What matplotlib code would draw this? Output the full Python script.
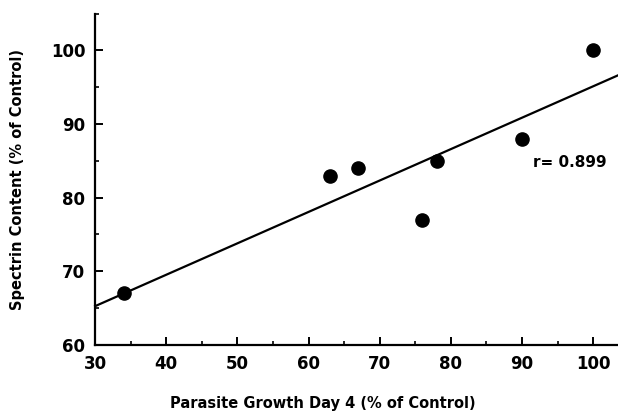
import numpy as np
import matplotlib
matplotlib.use("Agg")
import matplotlib.pyplot as plt
from matplotlib.ticker import MultipleLocator

# values
growth = [34, 63, 67, 76, 78, 90, 100]
spectrin = [67, 83, 84, 77, 85, 88, 100]
r_label = "r= 0.899"

plt.rcParams['font.family'] = ['DejaVu Sans']
plt.rcParams['font.weight'] = 'bold'

fig = plt.figure(figsize=(6.18, 4.15), dpi=100)
ax = fig.add_axes([0.154, 0.169, 0.846, 0.798])

ax.scatter(growth, spectrin, s=90, color='black', zorder=3)

# least-squares line across the whole x range
slope, icpt = np.polyfit(growth, spectrin, 1)
xl = np.array([30, 103.5])
ax.plot(xl, slope * xl + icpt, color='black', lw=1.6, clip_on=False)

ax.text(91.5, 84.8, r_label, fontsize=11, va='center', ha='left')

ax.set_xlim(30, 103.5)
ax.set_ylim(60, 105)
ax.xaxis.set_major_locator(MultipleLocator(10))
ax.xaxis.set_minor_locator(MultipleLocator(5))
ax.yaxis.set_major_locator(MultipleLocator(10))
ax.yaxis.set_minor_locator(MultipleLocator(5))
ax.set_xticks(np.arange(30, 101, 10))
ax.set_yticks(np.arange(60, 101, 10))

for s in ['top', 'right']:
    ax.spines[s].set_visible(False)
for s in ['left', 'bottom']:
    ax.spines[s].set_linewidth(1.6)

ax.tick_params(which='major', direction='in', length=6, width=1.4, labelsize=12, pad=7)
ax.tick_params(which='minor', direction='in', length=3, width=1.2)

ax.set_xlabel('Parasite Growth Day 4 (% of Control)', fontsize=10.5, fontweight='bold')
ax.set_ylabel('Spectrin Content (% of Control)', fontsize=10.5, fontweight='bold')
ax.xaxis.set_label_coords(0.435, -0.155)
ax.yaxis.set_label_coords(-0.135, 0.5)

fig.savefig('out.png', dpi=100)
